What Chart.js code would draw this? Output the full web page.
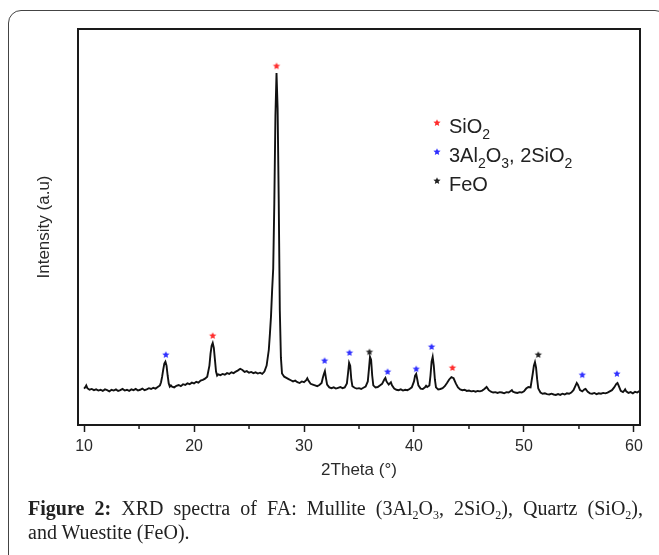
<!DOCTYPE html>
<html>
<head>
<meta charset="utf-8">
<script src="https://cdn.jsdelivr.net/npm/chart.js@4.4.0/dist/chart.umd.min.js"></script>
<style>
  html, body { margin: 0; padding: 0; background: #fff; overflow: hidden; }
  #wrap { position: relative; width: 659px; height: 555px; overflow: hidden; }
  #box { position: absolute; left: 8px; top: 10px; width: 660px; height: 560px; border: 1.4px solid #444; border-radius: 13px; box-sizing: border-box; }
  #chartBox { position: absolute; left: 0; top: 0; width: 659px; height: 555px; }
  .caption { position: absolute; left: 28px; width: 615px; font-family: 'Liberation Serif', 'Times New Roman', serif; font-size: 20px; line-height: 24px; color: #222; white-space: nowrap; }
  .caption sub { font-size: 0.6em; line-height: 0; vertical-align: -0.3em; }
  #cap1 { top: 496px; text-align: justify; text-align-last: justify; }
  #cap2 { top: 520px; }
</style>
</head>
<body>
<div id="wrap">
  <div id="box"></div>
  <div id="chartBox"><canvas id="xrd_chart"></canvas></div>
  <div class="caption" id="cap1"><span id="cap1text"><b>Figure 2:</b> XRD spectra of FA: Mullite (3Al<sub>2</sub>O<sub>3</sub>, 2SiO<sub>2</sub>), Quartz (SiO<sub>2</sub>),</span></div>
  <div class="caption" id="cap2">and Wuestite (FeO).</div>
</div>
<script>
// XRD trace (2theta in degrees, intensity in a.u.)
const twoTheta = [
  10.0, 10.1, 10.2, 10.3, 10.5, 10.7, 10.9, 11.1, 11.3, 11.5,
  11.7, 11.9, 12.1, 12.3, 12.5, 12.7, 12.9, 13.1, 13.3, 13.5,
  13.7, 13.9, 14.1, 14.3, 14.5, 14.7, 14.9, 15.1, 15.3, 15.5,
  15.7, 15.9, 16.1, 16.3, 16.5, 16.7, 16.9, 17.0, 17.1, 17.2,
  17.3, 17.4, 17.5, 17.6, 17.7, 17.8, 17.9, 18.0, 18.2, 18.4,
  18.6, 18.8, 19.0, 19.2, 19.4, 19.6, 19.8, 20.0, 20.2, 20.4,
  20.6, 20.8, 21.0, 21.2, 21.4, 21.5, 21.6, 21.7, 21.8, 21.9,
  22.0, 22.1, 22.2, 22.4, 22.6, 22.8, 23.0, 23.2, 23.4, 23.6,
  23.8, 24.0, 24.2, 24.4, 24.6, 24.8, 25.0, 25.2, 25.4, 25.6,
  25.8, 26.0, 26.2, 26.4, 26.6, 26.8, 26.9, 27.0, 27.1, 27.2,
  27.3, 27.4, 27.5, 27.6, 27.7, 27.8, 27.9, 28.0, 28.2, 28.4,
  28.6, 28.8, 29.0, 29.2, 29.4, 29.6, 29.8, 30.0, 30.2, 30.3,
  30.4, 30.6, 30.8, 31.0, 31.2, 31.4, 31.6, 31.7, 31.8, 31.9,
  32.0, 32.1, 32.3, 32.5, 32.7, 32.9, 33.1, 33.3, 33.5, 33.7,
  33.9, 34.0, 34.1, 34.2, 34.3, 34.4, 34.6, 34.8, 35.0, 35.2,
  35.4, 35.6, 35.8, 35.9, 36.0, 36.1, 36.2, 36.3, 36.5, 36.7,
  36.9, 37.1, 37.3, 37.4, 37.5, 37.7, 37.9, 38.0, 38.2, 38.4,
  38.6, 38.8, 39.0, 39.2, 39.4, 39.6, 39.8, 40.0, 40.1, 40.2,
  40.3, 40.4, 40.6, 40.8, 41.0, 41.1, 41.2, 41.4, 41.5, 41.6,
  41.7, 41.8, 41.9, 42.0, 42.2, 42.4, 42.6, 42.8, 43.0, 43.2,
  43.4, 43.6, 43.8, 44.0, 44.2, 44.4, 44.6, 44.8, 45.0, 45.2,
  45.4, 45.6, 45.8, 46.0, 46.2, 46.4, 46.6, 46.8, 47.0, 47.2,
  47.4, 47.6, 47.8, 48.0, 48.2, 48.4, 48.6, 48.8, 48.9, 49.0,
  49.2, 49.4, 49.6, 49.8, 50.0, 50.2, 50.4, 50.6, 50.8, 50.9,
  51.0, 51.1, 51.2, 51.3, 51.5, 51.7, 51.9, 52.1, 52.3, 52.5,
  52.7, 52.9, 53.1, 53.3, 53.5, 53.7, 53.9, 54.1, 54.3, 54.5,
  54.7, 54.8, 54.9, 55.1, 55.3, 55.5, 55.6, 55.8, 56.0, 56.2,
  56.4, 56.6, 56.8, 57.0, 57.2, 57.4, 57.6, 57.8, 58.0, 58.2,
  58.4, 58.5, 58.6, 58.8, 59.0, 59.1, 59.2, 59.3, 59.5, 59.7,
  59.9, 60.1, 60.3, 60.5
];
const intensity = [
  92, 95, 100, 93, 89, 91, 88, 90, 87, 89,
  86, 90, 88, 85, 89, 87, 90, 86, 88, 91,
  87, 89, 86, 90, 88, 91, 87, 89, 92, 88,
  90, 93, 91, 94, 92, 96, 100, 108, 122, 140,
  155, 160, 150, 125, 105, 97, 100, 97, 95, 99,
  101, 98, 103, 101, 105, 103, 107, 105, 109, 107,
  112, 114, 117, 122, 150, 180, 200, 207, 195, 165,
  135, 125, 128, 126, 129, 127, 131, 129, 133, 131,
  135, 138, 142, 139, 134, 136, 132, 134, 131, 133,
  130, 132, 129, 135, 150, 190, 230, 275, 340, 395,
  560, 780, 889, 800, 570, 290, 170, 130, 122, 119,
  116, 113, 110, 112, 108, 106, 110, 108, 113, 118,
  112, 104, 102, 100, 98, 101, 106, 118, 128, 136,
  118, 102, 95, 93, 95, 92, 94, 96, 93, 95,
  105, 130, 157, 150, 115, 98, 94, 92, 93, 91,
  94, 97, 110, 140, 172, 165, 125, 100, 95, 96,
  100, 104, 115, 119, 110, 102, 108, 100, 92, 89,
  88, 90, 87, 89, 88, 91, 95, 110, 125, 129,
  115, 100, 92, 91, 95, 99, 96, 100, 125, 160,
  172, 150, 115, 95, 90, 91, 93, 98, 106, 115,
  121, 118, 105, 95, 90, 88, 89, 86, 87, 85,
  86, 84, 86, 85, 87, 91, 96, 88, 84, 82,
  83, 81, 83, 82, 80, 83, 82, 86, 88, 84,
  82, 81, 83, 82, 85, 92, 96, 95, 130, 150,
  159, 145, 115, 92, 82, 79, 80, 78, 77, 79,
  77, 76, 78, 76, 79, 77, 80, 79, 82, 88,
  100, 106, 102, 88, 85, 90, 91, 84, 80, 79,
  81, 78, 80, 79, 81, 80, 82, 85, 88, 95,
  104, 106, 100, 86, 83, 86, 90, 85, 81, 83,
  80, 84, 82, 86
];

// peak markers (stars) for each phase
const sio2Theta = [21.7, 27.5, 43.5];
const sio2Mark = [225, 906, 144];
const mulliteTheta = [17.44, 31.87, 34.14, 37.6, 40.2, 41.6, 55.3, 58.45];
const mulliteMark = [177, 162, 182, 134, 141, 197, 126, 129];
const feoTheta = [35.95, 51.3];
const feoMark = [184, 177];

const xTicks = [10, 20, 30, 40, 50, 60];
const xMinorTicks = [15, 25, 35, 45, 55];

const legendLabels = ['SiO_2', '3Al_2O_3, 2SiO_2', 'FeO'];
const legendColors = ['#ff2d2d', '#3030ff', '#222222'];

function drawStar(g, cx, cy, r, color) {
    g.beginPath();
    for (let i = 0; i < 10; i++) {
        const rr = i % 2 ? r * 0.45 : r;
        const a = -Math.PI / 2 + i * Math.PI / 5;
        g.lineTo(cx + rr * Math.cos(a), cy + rr * Math.sin(a));
    }
    g.closePath();
    g.fillStyle = color;
    g.fill();
}

function starImage(color, r) {
    const c = document.createElement('canvas');
    const s = Math.ceil(r * 2 + 2);
    c.width = s;
    c.height = s;
    drawStar(c.getContext('2d'), s / 2, s / 2, r, color);
    return c;
}

function toPoints(xs, ys) {
    return xs.map((x, i) => ({x: x, y: ys[i]}));
}

// text with single-digit subscripts written as _2
function drawRich(ctx, text, x, y, size) {
    const parts = text.split(/_(\d)/);
    parts.forEach((p, i) => {
        const sub = i % 2 === 1;
        ctx.font = (sub ? Math.round(size * 0.72) : size) + 'px "Liberation Sans", Arial, sans-serif';
        ctx.fillText(p, x, sub ? y + size * 0.28 : y);
        x += ctx.measureText(p).width;
    });
}

const framePlugin = {
    id: 'frame',
    afterDatasetsDraw(chart) {
        const ctx = chart.ctx;
        const a = chart.chartArea;
        const x = chart.scales.x;
        ctx.save();
        ctx.strokeStyle = '#1a1a1a';
        ctx.lineWidth = 2;
        ctx.strokeRect(a.left, a.top, a.right - a.left, a.bottom - a.top);
        ctx.lineWidth = 1.5;
        xMinorTicks.forEach(v => {
            const px = x.getPixelForValue(v);
            ctx.beginPath();
            ctx.moveTo(px, a.bottom);
            ctx.lineTo(px, a.bottom + 4);
            ctx.stroke();
        });

        // legend with subscripts
        ctx.textBaseline = 'alphabetic';
        legendLabels.forEach((lab, i) => {
            const base = a.top + 104 + i * 29;
            drawStar(ctx, a.left + 359, base - 10, 3.8, legendColors[i]);
            ctx.fillStyle = '#222';
            drawRich(ctx, lab, a.left + 371, base, 20);
        });
        ctx.restore();
    }
};

const xrd_chart = document.getElementById('xrd_chart');

let chart = new Chart(xrd_chart, {
    type: 'scatter',
    data: {
        datasets: [
            {
                label: 'SiO2',
                data: toPoints(sio2Theta, sio2Mark),
                pointStyle: starImage(legendColors[0], 3.8)
            },
            {
                label: '3Al2O3, 2SiO2',
                data: toPoints(mulliteTheta, mulliteMark),
                pointStyle: starImage(legendColors[1], 3.8)
            },
            {
                label: 'FeO',
                data: toPoints(feoTheta, feoMark),
                pointStyle: starImage(legendColors[2], 3.8)
            },
            {
                label: 'FA',
                data: toPoints(twoTheta, intensity),
                showLine: true,
                borderColor: '#111',
                borderWidth: 1.9,
                pointRadius: 0,
                tension: 0
            }
        ]
    },
    options: {
        responsive: true,
        maintainAspectRatio: false,
        animation: false,
        layout: {
            padding: {left: 30, top: 29, right: 19, bottom: 70}
        },
        plugins: {
            legend: {display: false},
            tooltip: {enabled: false}
        },
        scales: {
            x: {
                type: 'linear',
                min: 9.45,
                max: 60.55,
                afterBuildTicks: function(scale) {
                    scale.ticks = xTicks.map(v => ({value: v}));
                },
                afterFit: function(scale) {
                    scale.height = 60;
                },
                grid: {
                    drawOnChartArea: false,
                    tickLength: 7,
                    tickWidth: 1.5,
                    tickColor: '#1a1a1a'
                },
                border: {display: false},
                ticks: {
                    padding: 5,
                    color: '#2a2a2a',
                    font: {family: 'Liberation Sans', size: 16}
                },
                title: {
                    display: true,
                    text: '2Theta (°)',
                    color: '#2a2a2a',
                    font: {family: 'Liberation Sans', size: 17}
                }
            },
            y: {
                min: 0,
                max: 1000,
                afterFit: function(scale) {
                    scale.width = 48;
                },
                grid: {display: false},
                border: {display: false},
                ticks: {display: false},
                title: {
                    display: true,
                    text: 'Intensity (a.u)',
                    color: '#2a2a2a',
                    font: {family: 'Liberation Sans', size: 17}
                }
            }
        }
    },
    plugins: [framePlugin]
});

// squeeze the first caption line if it is wider than the box
const capSpan = document.getElementById('cap1text');
const capWidth = capSpan.getBoundingClientRect().width;
if (capWidth > 615) {
    capSpan.style.letterSpacing = ((615 - capWidth) / capSpan.textContent.length).toFixed(2) + 'px';
}
</script>
</body>
</html>
